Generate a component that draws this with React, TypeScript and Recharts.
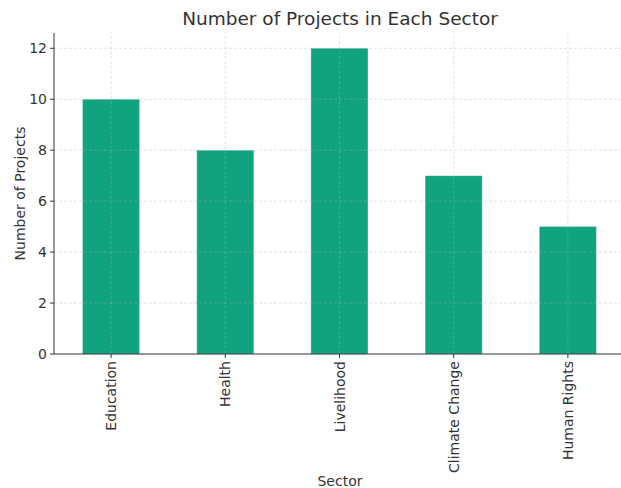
import React from "react";
import { BarChart, Bar, XAxis, YAxis, ReferenceLine } from "recharts";

const sectors = ["Education", "Health", "Livelihood", "Climate Change", "Human Rights"];
const projectCounts = [10, 8, 12, 7, 5];
const yTicks = [0, 2, 4, 6, 8, 10, 12];

const chartData = sectors.map((sector, i) => ({ sector, projects: projectCounts[i] }));

const FONT = "'DejaVu Sans', sans-serif";
const GRID = { stroke: "#b0b0b0", strokeOpacity: 0.45, strokeDasharray: "3 2", strokeWidth: 0.8 };

function RotatedTick(props: any) {
  const { x, y, payload } = props;
  return (
    <text
      x={x}
      y={y}
      transform={`rotate(-90, ${x}, ${y})`}
      textAnchor="end"
      dominantBaseline="central"
      fontSize={14}
      fontFamily={FONT}
      fill="#333"
    >
      {payload.value}
    </text>
  );
}

export default function App() {
  return (
    <div style={{ position: "absolute", top: 0, left: 0, width: 621, height: 488, overflow: "hidden", background: "#fff" }}>
      <div
        style={{
          position: "absolute",
          top: 7,
          left: 0,
          width: 680,
          textAlign: "center",
          fontFamily: FONT,
          fontSize: 18.5,
          color: "#333",
          lineHeight: "24px",
        }}
      >
        Number of Projects in Each Sector
      </div>
      <div
        style={{
          position: "absolute",
          top: 472,
          left: 0,
          width: 680,
          textAlign: "center",
          fontFamily: FONT,
          fontSize: 14,
          color: "#333",
          lineHeight: "18px",
        }}
      >
        Sector
      </div>
      <BarChart
        width={630}
        height={488}
        data={chartData}
        margin={{ top: 33, right: 5, bottom: 0, left: 0 }}
        barCategoryGap="25%"
        style={{ position: "absolute", top: 0, left: 0 }}
      >
        <XAxis
          dataKey="sector"
          height={134}
          tick={<RotatedTick />}
          tickSize={4}
          tickMargin={3}
          axisLine={{ stroke: "#333" }}
          tickLine={{ stroke: "#333" }}
          interval={0}
        />
        <YAxis
          width={54}
          domain={[0, 12.6]}
          ticks={yTicks}
          tickSize={4}
          tickMargin={3}
          axisLine={{ stroke: "#333" }}
          tickLine={{ stroke: "#333" }}
          tick={{ fill: "#333", fontSize: 14, fontFamily: FONT }}
          label={{
            value: "Number of Projects",
            angle: -90,
            position: "insideLeft",
            offset: 20,
            fill: "#333",
            fontSize: 14,
            fontFamily: FONT,
            style: { textAnchor: "middle" },
          }}
        />
        <Bar dataKey="projects" fill="#11a37f" stroke="#ffffff" strokeOpacity={0.4} strokeWidth={0.6} isAnimationActive={false} />
        {yTicks.filter((t) => t > 0).map((t) => (
          <ReferenceLine key={`y${t}`} y={t} {...GRID} />
        ))}
        {sectors.map((s) => (
          <ReferenceLine key={`x${s}`} x={s} {...GRID} />
        ))}
      </BarChart>
    </div>
  );
}
